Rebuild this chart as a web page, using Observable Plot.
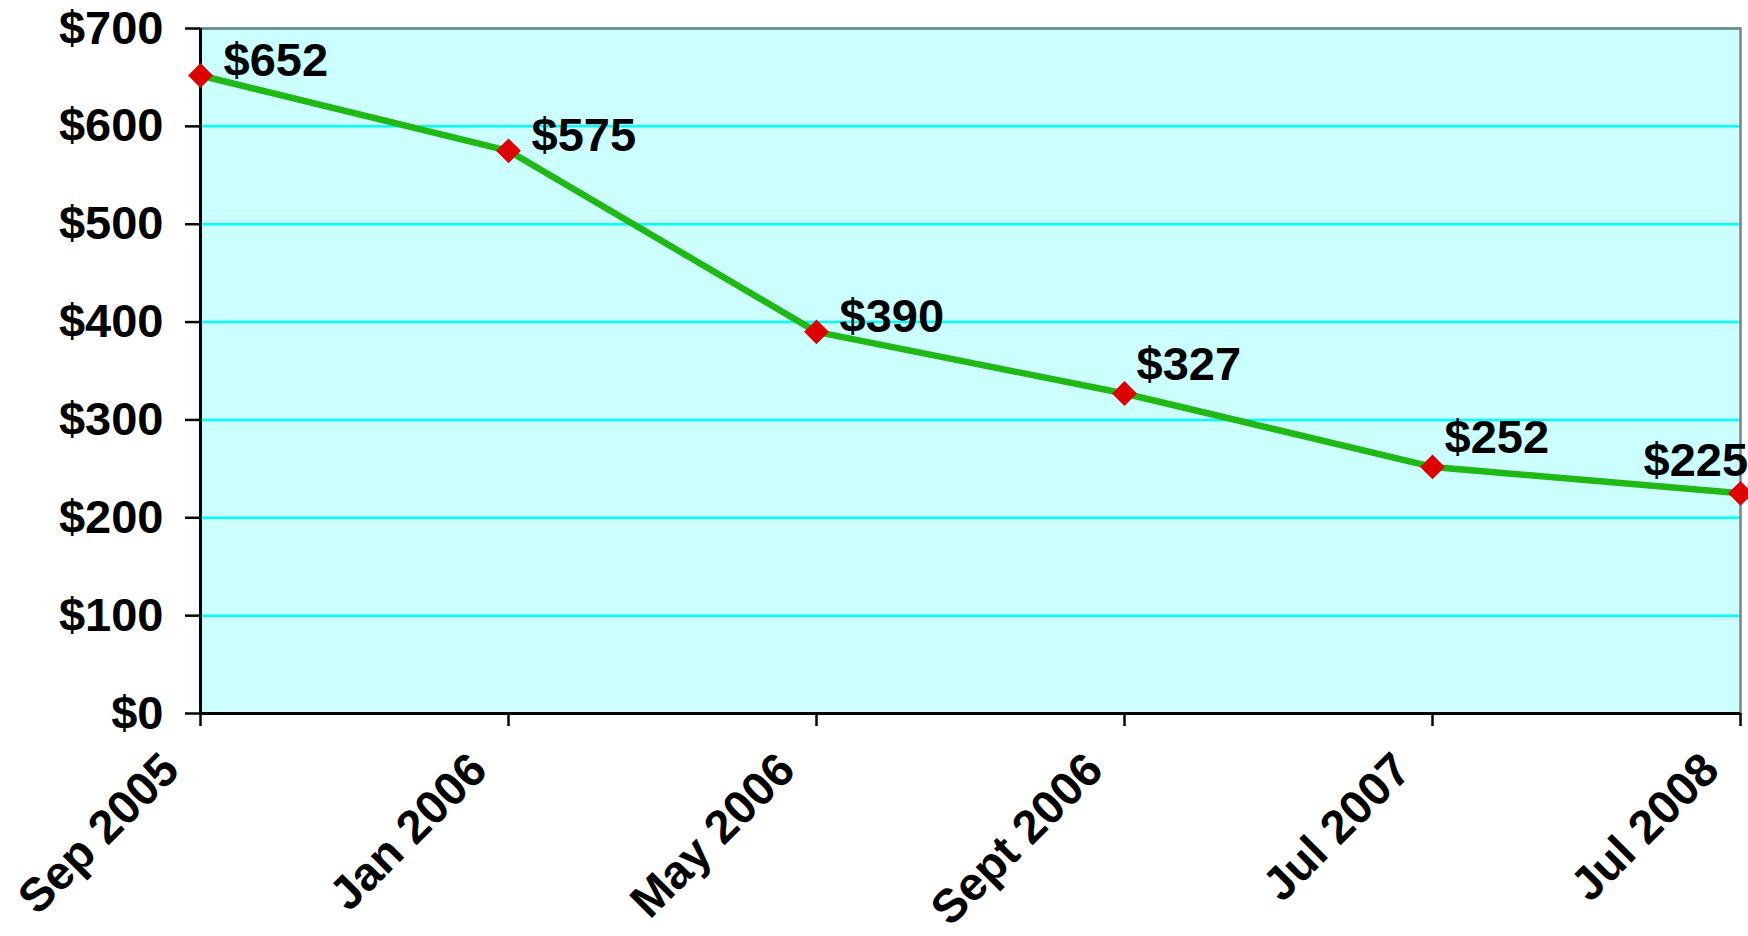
<!DOCTYPE html>
<html><head><meta charset="utf-8">
<script src="https://cdn.jsdelivr.net/npm/d3@7"></script>
<script src="https://cdn.jsdelivr.net/npm/@observablehq/plot@0.6"></script>
<style>body{margin:0;background:#fff} svg{display:block}</style>
</head><body><div id="chart"></div>
<script>
const dates = ["Sep 2005","Jan 2006","May 2006","Sept 2006","Jul 2007","Jul 2008"];
const prices = [652,575,390,327,252,225];
const yTicks = [0,100,200,300,400,500,600,700];
const data = dates.map((d,i)=>({date:d, price:prices[i], i}));
const font = "'Liberation Sans', Arial, sans-serif";
const FS = 47;
const lbl = d=>"$"+d.price;
const chart = Plot.plot({
  width:1748, height:936, marginLeft:200, marginRight:8, marginTop:28, marginBottom:223,
  style:{fontFamily:font, fontWeight:"bold", fontSize:FS+"px", color:"#000", background:"#fff"},
  x:{type:"point", domain:dates, padding:0, label:null},
  y:{domain:[0,700], label:null},
  marks:[
    Plot.frame({fill:"#ccffff", stroke:"none"}),
    Plot.gridY(yTicks, {stroke:"#00ffff", strokeOpacity:1, strokeWidth:2.5}),
    Plot.frame({stroke:"#808080", strokeWidth:2.5}),
    Plot.axisY(yTicks, {tickFormat:d=>"$"+d, tickSize:15, tickPadding:22, strokeWidth:2.5, fontSize:FS, fontWeight:"bold", label:null}),
    Plot.axisX({tickSize:13, tickFormat:()=>"", strokeWidth:2.5, label:null}),
    Plot.text(dates, {x:d=>d, frameAnchor:"bottom", rotate:-45, textAnchor:"end", lineAnchor:"bottom", dx:-19, dy:59, fontSize:FS, fontWeight:"bold", fill:"#000"}),
    Plot.ruleX([dates[0]], {stroke:"#000", strokeWidth:3}),
    Plot.ruleY([0], {stroke:"#000", strokeWidth:3}),
    Plot.line(data, {x:"date", y:"price", stroke:"#1fb814", strokeWidth:6.5}),
    Plot.dot(data, {x:"date", y:"price", symbol:"diamond2", r:11.2, fill:"#dd0000", stroke:"none"}),
    Plot.text(data.filter(d=>d.i<3), {x:"date", y:"price", text:lbl, textAnchor:"start", lineAnchor:"middle", dx:23, dy:-15, fontSize:FS, fontWeight:"bold", fill:"#000"}),
    Plot.text(data.filter(d=>d.i>=3 && d.i<5), {x:"date", y:"price", text:lbl, textAnchor:"start", lineAnchor:"middle", dx:12, dy:-29, fontSize:FS, fontWeight:"bold", fill:"#000"}),
    Plot.text(data.filter(d=>d.i===5), {x:"date", y:"price", text:lbl, textAnchor:"start", lineAnchor:"middle", dx:-97, dy:-32, fontSize:FS, fontWeight:"bold", fill:"#000"})
  ]
});
document.getElementById("chart").appendChild(chart);
</script></body></html>
